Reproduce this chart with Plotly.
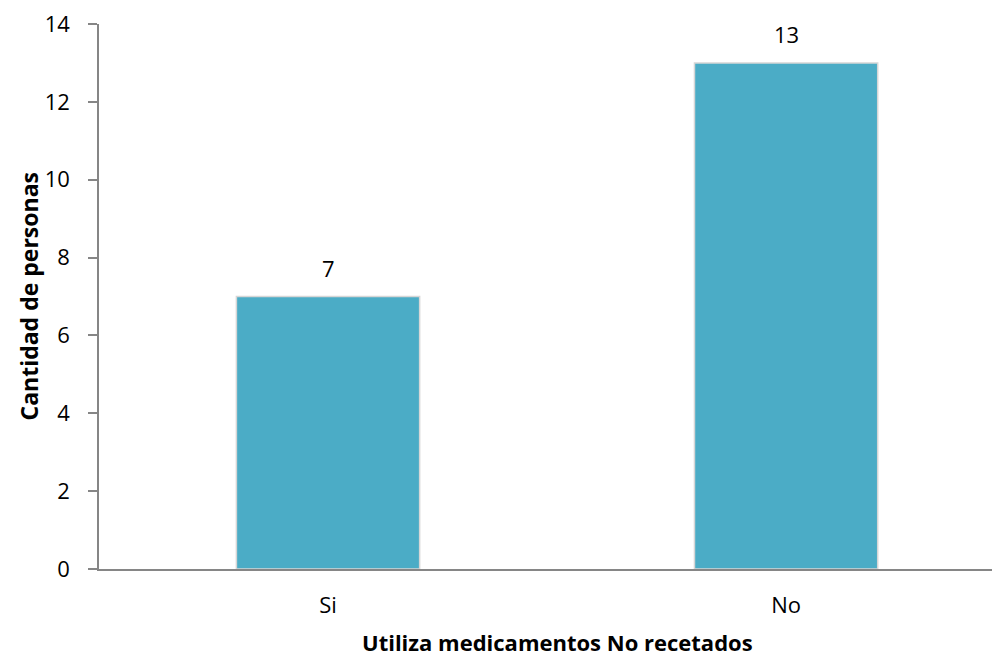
import plotly.graph_objects as go

categories = ["Si", "No"]
values = [7, 13]
y_ticks = [0, 2, 4, 6, 8, 10, 12, 14]

FONT = "Open Sans"
OFF = 8  # default page body margin
W, H = 1000 - OFF, 658 - OFF
ml, mr, mt, mb = 99 - OFF, 0, 24 - OFF, 89
PW = W - ml - mr
PH = H - mt - mb

fig = go.Figure()
fig.add_trace(go.Bar(
    x=categories, y=values,
    width=0.4,
    marker=dict(color="#4BACC6", line=dict(color="#d6d6d6", width=1.5)),
))

annotations = [
    dict(x=c, y=v, xref="x", yref="y", text=str(v), showarrow=False,
         yanchor="bottom", yshift=12, font=dict(family=FONT, size=22, color="#000000"))
    for c, v in zip(categories, values)
]
annotations += [
    dict(text="<b>Cantidad de personas</b>", xref="paper", yref="paper",
         x=-(99 - 28) / PW, y=0.5, textangle=-90, showarrow=False,
         font=dict(family=FONT, size=23), xanchor="center", yanchor="middle"),
    dict(text="<b>Utiliza medicamentos No recetados</b>", xref="paper", yref="paper",
         x=(557 - 99) / PW, y=-(642 - 569) / PH, showarrow=False,
         font=dict(family=FONT, size=22), xanchor="center", yanchor="middle"),
]

fig.update_layout(
    width=W, height=H,
    margin=dict(l=ml, r=mr, t=mt, b=mb),
    paper_bgcolor="white", plot_bgcolor="white",
    showlegend=False,
    font=dict(family=FONT, size=22, color="#000000"),
    xaxis=dict(
        type="category", range=[-0.5, 1.467],
        showline=True, linecolor="#868686", linewidth=1.5,
        ticks="", showgrid=False, zeroline=False,
        tickfont=dict(family=FONT, size=22, color="#000000"),
        ticklabelstandoff=16,
    ),
    yaxis=dict(
        range=[0, 14], tickvals=y_ticks,
        showline=True, linecolor="#868686", linewidth=1.5,
        ticks="outside", ticklen=9, tickcolor="#868686", tickwidth=1.5,
        showgrid=False, zeroline=False,
        tickfont=dict(family=FONT, size=22, color="#000000"),
        ticklabelstandoff=14, ticklabeloverflow="allow",
    ),
    annotations=annotations,
)

fig.write_html("out.html")
